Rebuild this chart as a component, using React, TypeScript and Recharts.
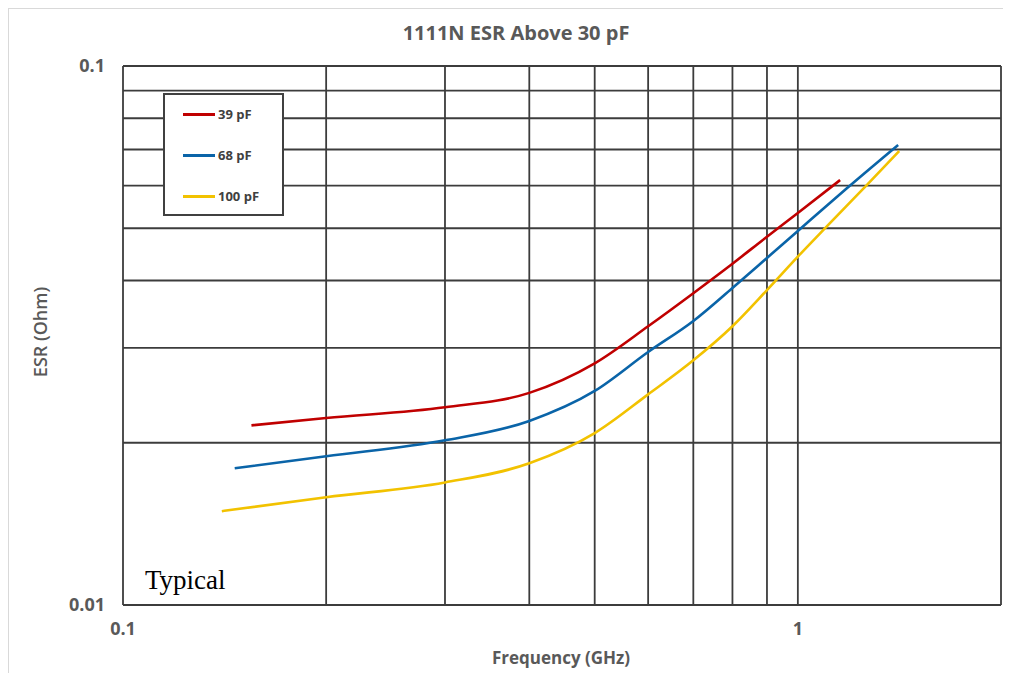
import { LineChart, Line, XAxis, YAxis, CartesianGrid, Legend } from "recharts";

// frequency (GHz) / ESR (Ohm)
const freq39 = [0.155, 0.2, 0.3, 0.4, 0.5, 0.6, 0.7, 0.8, 0.9, 1.0, 1.155];
const esr39 = [0.02154, 0.02223, 0.02327, 0.02475, 0.02808, 0.0329, 0.03789, 0.04297, 0.04822, 0.05336, 0.06142];

const freq68 = [0.1464, 0.2, 0.3, 0.4, 0.5, 0.6, 0.7, 0.8, 0.9, 1.0, 1.182, 1.408];
const esr68 = [0.01793, 0.01888, 0.02021, 0.02195, 0.02495, 0.02947, 0.03365, 0.03875, 0.04405, 0.04943, 0.0593, 0.07135];

const freq100 = [0.1401, 0.2, 0.3, 0.4, 0.5, 0.6, 0.7, 0.8, 0.9, 1.0, 1.102, 1.266, 1.413];
const esr100 = [0.01493, 0.01585, 0.01688, 0.01832, 0.02084, 0.02459, 0.02844, 0.0329, 0.0384, 0.0443, 0.0503, 0.0602, 0.06955];

const seriesNames = ["39 pF", "68 pF", "100 pF"];

const xTicks = [0.1, 0.2, 0.3, 0.4, 0.5, 0.6, 0.7, 0.8, 0.9, 1, 2];
const yTicks = [0.01, 0.02, 0.03, 0.04, 0.05, 0.06, 0.07, 0.08, 0.09, 0.1];
const xLabelled = [0.1, 1];
const yLabelled = [0.01, 0.1];

const toPts = (f: number[], e: number[]) => f.map((x, i) => ({ f: x, esr: e[i] }));

const labelFont = "'Open Sans', sans-serif";
const grey = "#595959";

function LegendBox(props: any) {
  const items = [...(props.payload || [])].sort(
    (a: any, b: any) => seriesNames.indexOf(a.value) - seriesNames.indexOf(b.value)
  );
  return (
    <div
      style={{
        position: "relative",
        width: 121,
        height: 123,
        boxSizing: "border-box",
        border: "2px solid #404040",
        background: "#fff",
      }}
    >
      {items.map((p: any, i: number) => (
        <div key={p.value} style={{ position: "absolute", left: 18, top: 11 + i * 41, height: 16, display: "flex", alignItems: "center" }}>
          <div style={{ width: 32, height: 3, background: p.color }} />
          <span style={{ marginLeft: 3, fontFamily: labelFont, fontWeight: 700, fontSize: 13, color: "#404040" }}>{p.value}</span>
        </div>
      ))}
    </div>
  );
}

export default function App() {
  return (
    <div
      style={{
        position: "relative",
        width: 994,
        height: 664,
        borderTop: "1px solid #d9d9d9",
        borderLeft: "1px solid #d9d9d9",
        background: "#fff",
      }}
    >
      <div
        style={{
          position: "absolute",
          left: 507,
          top: 12,
          transform: "translateX(-50%)",
          whiteSpace: "nowrap",
          fontFamily: labelFont,
          fontWeight: 700,
          fontSize: 20,
          lineHeight: "24px",
          color: grey,
        }}
      >
        1111N ESR Above 30 pF
      </div>

      <LineChart width={994} height={664} margin={{ top: 57, right: 2, left: 14, bottom: 28 }}>
        <CartesianGrid stroke="#3c3c3c" strokeWidth={1.8} />
        <XAxis
          type="number"
          dataKey="f"
          scale="log"
          domain={[0.1, 2]}
          allowDataOverflow
          ticks={xTicks}
          interval={0}
          height={40}
          axisLine={false}
          tickLine={false}
          tickSize={0}
          tickMargin={17}
          tickFormatter={(v: number) => (xLabelled.includes(v) ? String(v) : "")}
          tick={{ fill: grey, fontFamily: labelFont, fontWeight: 700, fontSize: 18 }}
        />
        <YAxis
          type="number"
          dataKey="esr"
          scale="log"
          domain={[0.01, 0.1]}
          allowDataOverflow
          ticks={yTicks}
          interval={0}
          width={100}
          axisLine={false}
          tickLine={false}
          tickSize={0}
          tickMargin={18}
          tickFormatter={(v: number) => (yLabelled.includes(v) ? String(v) : "")}
          tick={{ fill: grey, fontFamily: labelFont, fontWeight: 700, fontSize: 18 }}
        />
        <Legend
          layout="horizontal"
          verticalAlign="middle"
          align="center"
          content={<LegendBox />}
          wrapperStyle={{ left: 154, top: 84, width: 121, height: 123 }}
        />
        <Line data={toPts(freq39, esr39)} dataKey="esr" name="39 pF" type="monotone" stroke="#C00000" strokeWidth={2.6} dot={false} isAnimationActive={false} />
        <Line data={toPts(freq68, esr68)} dataKey="esr" name="68 pF" type="monotone" stroke="#0A64A8" strokeWidth={2.6} dot={false} isAnimationActive={false} />
        <Line data={toPts(freq100, esr100)} dataKey="esr" name="100 pF" type="monotone" stroke="#F2C200" strokeWidth={2.6} dot={false} isAnimationActive={false} />
      </LineChart>

      <div
        style={{
          position: "absolute",
          left: 552,
          top: 637,
          transform: "translateX(-50%)",
          whiteSpace: "nowrap",
          fontFamily: labelFont,
          fontWeight: 700,
          fontSize: 17,
          lineHeight: "24px",
          color: grey,
        }}
      >
        Frequency (GHz)
      </div>
      <div
        style={{
          position: "absolute",
          left: 31,
          top: 323,
          transform: "translate(-50%, -50%) rotate(-90deg)",
          whiteSpace: "nowrap",
          fontFamily: labelFont,
          fontWeight: 600,
          fontSize: 18,
          lineHeight: "22px",
          color: grey,
        }}
      >
        ESR (Ohm)
      </div>
      <div
        style={{
          position: "absolute",
          left: 136,
          top: 558,
          fontFamily: "'Liberation Serif', 'Times New Roman', serif",
          fontSize: 27,
          lineHeight: "27px",
          color: "#000",
        }}
      >
        Typical
      </div>
    </div>
  );
}
